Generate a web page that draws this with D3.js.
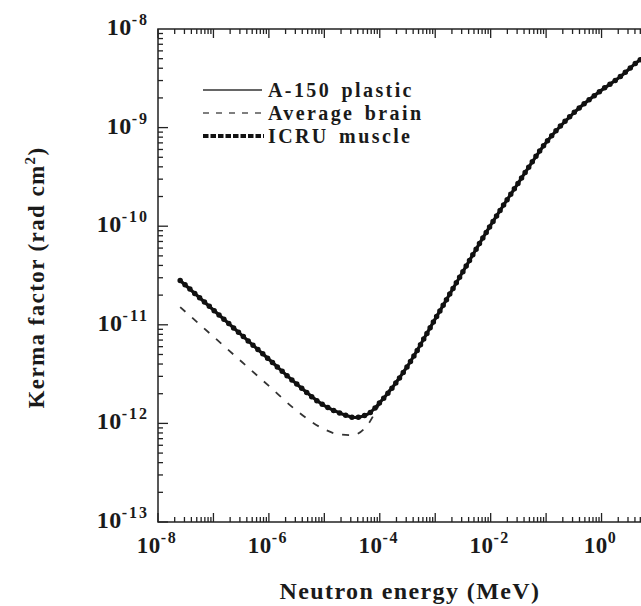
<!DOCTYPE html>
<html>
<head>
<meta charset="utf-8">
<script src="https://cdn.jsdelivr.net/npm/d3@7"></script>
<style>
  body { margin: 0; background: #fff; }
  svg { display: block; }
  text { font-family: "Liberation Serif", "Times New Roman", serif; font-weight: bold; fill: #1a1a1a; }
</style>
</head>
<body>
<div id="chart"></div>
<script>
// log10 of neutron energy (MeV)
var muscle_logE = [-7.6, -7, -6.5, -6, -5.5, -5, -4.7, -4.45, -4.2, -4, -3.5, -3, -2.5, -2, -1.5, -1, -0.5, 0, 0.3, 0.7, 1.0];
// log10 of kerma factor (rad cm^2)
var muscle_logK = [-10.55, -10.85, -11.1, -11.35, -11.6, -11.82, -11.9, -11.94, -11.9, -11.79, -11.42, -10.94, -10.46, -9.99, -9.56, -9.15, -8.85, -8.62, -8.5, -8.31, -8.2];

var a150_logE = [-7.6, -7, -6.5, -6, -5.5, -5, -4.7, -4.45, -4.2, -4, -3.5, -3, -2.5, -2, -1.5, -1, -0.5, 0, 0.3, 0.7, 1.0];
var a150_logK = [-10.55, -10.85, -11.1, -11.35, -11.6, -11.82, -11.9, -11.94, -11.9, -11.79, -11.42, -10.94, -10.46, -9.99, -9.56, -9.15, -8.85, -8.62, -8.5, -8.31, -8.2];

var brain_logE = [-7.6, -7, -6.5, -6, -5.5, -5, -4.75, -4.5, -4.2, -4, -3.5, -3, -2.5, -2, -1.5, -1, -0.5, 0, 0.3, 0.7, 1.0];
var brain_logK = [-10.82, -11.12, -11.37, -11.62, -11.87, -12.06, -12.11, -12.12, -12.0, -11.8, -11.42, -10.94, -10.46, -9.99, -9.56, -9.15, -8.85, -8.62, -8.5, -8.31, -8.2];

var series_names = ["A-150 plastic", "Average brain", "ICRU muscle"];
var x_label_exps = [-8, -6, -4, -2, 0];
var y_label_exps = [-8, -9, -10, -11, -12, -13];

var width = 641, height = 606;
var plotL = 158, plotR = 657, plotT = 29, plotB = 522;

var svg = d3.select("#chart").append("svg")
    .attr("width", width)
    .attr("height", height);

var x = d3.scaleLog().domain([1e-8, 1e1]).range([plotL, plotR]);
var y = d3.scaleLog().domain([1e-13, 1e-8]).range([plotB, plotT]);

function toPts(le, lk) {
    return le.map(function(d, i) { return { e: Math.pow(10, d), k: Math.pow(10, lk[i]) }; });
}

// frame
svg.append("rect")
    .attr("x", plotL).attr("y", plotT)
    .attr("width", plotR - plotL).attr("height", plotB - plotT)
    .attr("fill", "none").attr("stroke", "#222").attr("stroke-width", 1.5);

// ticks: majors on each decade, minors 2..9
var xt = [];
d3.range(-8, 1).forEach(function(p) {
    xt.push({ v: Math.pow(10, p), major: true });
    for (var m = 2; m <= 9; m++) xt.push({ v: m * Math.pow(10, p), major: false });
});
xt.push({ v: 10, major: true });
var yt = [];
d3.range(-13, -8).forEach(function(p) {
    yt.push({ v: Math.pow(10, p), major: true });
    for (var m = 2; m <= 9; m++) yt.push({ v: m * Math.pow(10, p), major: false });
});

var ticks = svg.append("g").attr("stroke", "#222").attr("stroke-width", 1.3);
xt.forEach(function(t) {
    var len = t.major ? 9 : 5, px = x(t.v);
    ticks.append("line").attr("x1", px).attr("x2", px).attr("y1", plotB).attr("y2", plotB - len);
    ticks.append("line").attr("x1", px).attr("x2", px).attr("y1", plotT).attr("y2", plotT + len);
});
yt.forEach(function(t) {
    var len = t.major ? 10 : 5, py = y(t.v);
    ticks.append("line").attr("x1", plotL).attr("x2", plotL + len).attr("y1", py).attr("y2", py);
    ticks.append("line").attr("x1", plotR).attr("x2", plotR - len).attr("y1", py).attr("y2", py);
});

// tick labels
x_label_exps.forEach(function(p) {
    var t = svg.append("text")
        .attr("x", x(Math.pow(10, p)) - 1)
        .attr("y", 553)
        .attr("text-anchor", "middle")
        .style("font-size", "23px");
    t.append("tspan").style("letter-spacing", "0.5px").text("10");
    t.append("tspan").attr("dy", -10).style("font-size", "16px").style("letter-spacing", "1.5px").text(String(p));
});
y_label_exps.forEach(function(p) {
    var t = svg.append("text")
        .attr("x", 149)
        .attr("y", y(Math.pow(10, p)) + 6)
        .attr("text-anchor", "end")
        .style("font-size", "24px");
    t.append("tspan").style("letter-spacing", "0.5px").text("10");
    t.append("tspan").attr("dy", -10).style("font-size", "16px").style("letter-spacing", "2px").text(String(p));
});

// axis titles
svg.append("text")
    .attr("x", 410).attr("y", 599)
    .attr("text-anchor", "middle")
    .style("font-size", "24px")
    .style("letter-spacing", "1.4px")
    .text("Neutron energy (MeV)");

var ytitle = svg.append("text")
    .attr("transform", "translate(44," + ((plotT + plotB) / 2 + 2) + ") rotate(-90)")
    .attr("text-anchor", "middle")
    .style("font-size", "23px")
    .style("letter-spacing", "1.4px");
ytitle.append("tspan").text("Kerma factor (rad cm");
ytitle.append("tspan").attr("dy", -9).style("font-size", "15px").text("2");
ytitle.append("tspan").attr("dy", 9).text(")");

// curves
var line = d3.line()
    .x(function(d) { return x(d.e); })
    .y(function(d) { return y(d.k); })
    .curve(d3.curveMonotoneX);

var plot = svg.append("g");

plot.append("path")
    .datum(toPts(a150_logE, a150_logK))
    .attr("d", line)
    .attr("fill", "none").attr("stroke", "#222").attr("stroke-width", 1.3);

plot.append("path")
    .datum(toPts(brain_logE, brain_logK))
    .attr("d", line)
    .attr("fill", "none").attr("stroke", "#333").attr("stroke-width", 1.8)
    .attr("stroke-dasharray", "7,9");

var musclePts = toPts(muscle_logE, muscle_logK);
plot.append("path")
    .datum(musclePts)
    .attr("d", line)
    .attr("fill", "none").attr("stroke", "#111").attr("stroke-width", 3.2);
plot.append("path")
    .datum(musclePts)
    .attr("d", line)
    .attr("fill", "none").attr("stroke", "#111").attr("stroke-width", 5.5)
    .attr("stroke-linecap", "round")
    .attr("stroke-dasharray", "0,6.5");

// legend
var legY = [90, 113, 136];
var lg = svg.append("g");
lg.append("line").attr("x1", 203).attr("x2", 262).attr("y1", legY[0]).attr("y2", legY[0])
    .attr("stroke", "#333").attr("stroke-width", 1.5);
lg.append("line").attr("x1", 203).attr("x2", 264).attr("y1", legY[1]).attr("y2", legY[1])
    .attr("stroke", "#555").attr("stroke-width", 1.5).attr("stroke-dasharray", "6,7");
lg.append("line").attr("x1", 203).attr("x2", 264).attr("y1", legY[2]).attr("y2", legY[2])
    .attr("stroke", "#111").attr("stroke-width", 4).attr("stroke-dasharray", "5.5,2");
series_names.forEach(function(n, i) {
    lg.append("text")
        .attr("x", 268).attr("y", legY[i] + 7)
        .style("font-size", "20px")
        .style("letter-spacing", "2.4px")
        .style("word-spacing", "3px")
        .text(n);
});
</script>
</body>
</html>
